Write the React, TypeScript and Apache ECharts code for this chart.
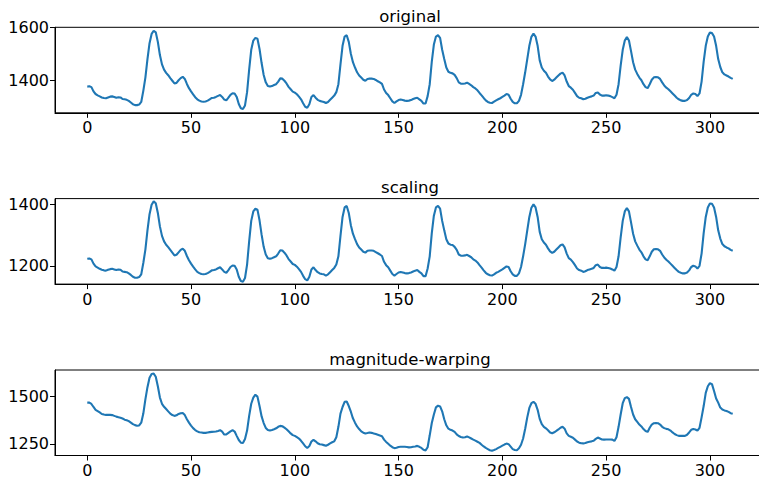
import React, { useEffect, useRef } from "react";
import * as echarts from "echarts";

const titles = ["original", "scaling", "magnitude-warping"];

const original = [
  1376, 1377, 1374, 1358, 1348, 1343, 1339, 1335, 1333, 1332,
  1335, 1338, 1339, 1337, 1334, 1336, 1335, 1329, 1328, 1326,
  1322, 1316, 1309, 1306, 1306, 1308, 1318, 1360, 1410, 1480,
  1540, 1575, 1587, 1581, 1545, 1495, 1460, 1440, 1428, 1419,
  1408, 1398, 1388, 1390, 1400, 1408, 1413, 1405, 1386, 1370,
  1358, 1347, 1336, 1328, 1323, 1320, 1319, 1320, 1323, 1328,
  1333, 1334, 1337, 1341, 1344, 1337, 1327, 1324, 1334, 1345,
  1351, 1350, 1337, 1310, 1294, 1291, 1305, 1355, 1440, 1515,
  1550, 1560, 1557, 1518, 1465, 1420, 1392, 1378, 1376, 1378,
  1382, 1385, 1395, 1407, 1406, 1398, 1388, 1375, 1366, 1357,
  1353, 1347, 1338, 1328, 1313, 1300, 1296, 1309, 1337, 1344,
  1334, 1326, 1322, 1320, 1318, 1314, 1318, 1326, 1334, 1342,
  1355, 1385, 1460, 1530, 1565, 1570, 1545, 1500, 1468, 1448,
  1430, 1418, 1410, 1402, 1398, 1405, 1406, 1406, 1405, 1401,
  1396, 1392, 1386, 1365, 1352, 1344, 1332, 1320, 1314, 1320,
  1325, 1327, 1325, 1323, 1322, 1323, 1325, 1329, 1332, 1334,
  1328, 1322, 1312, 1312, 1340, 1385, 1470, 1535, 1565, 1570,
  1560, 1515, 1480, 1448, 1432, 1428, 1426, 1420, 1408, 1392,
  1387, 1387, 1388, 1391, 1386, 1381, 1374, 1369, 1362, 1352,
  1343, 1333, 1324, 1318, 1315, 1314, 1319, 1324, 1328, 1332,
  1337, 1342, 1348, 1345, 1330, 1318, 1313, 1313, 1322, 1345,
  1385, 1430, 1480, 1530, 1564, 1576, 1565, 1530, 1475, 1448,
  1436, 1428, 1414, 1403, 1397, 1402, 1410, 1418, 1425, 1429,
  1418, 1395, 1378, 1372, 1364, 1352, 1340, 1334, 1332, 1328,
  1330, 1334, 1337, 1339, 1342, 1352, 1354, 1346, 1342, 1342,
  1343, 1342, 1340, 1336, 1332, 1345, 1385, 1455, 1515, 1550,
  1563, 1550, 1510, 1468, 1440, 1424, 1410, 1400, 1385, 1374,
  1370, 1385, 1402, 1411, 1412, 1411, 1405, 1392, 1380, 1372,
  1366, 1358, 1350, 1342, 1334, 1328, 1324, 1322, 1322, 1325,
  1333, 1345, 1350, 1348, 1340, 1350, 1395, 1470, 1530, 1565,
  1580, 1578, 1565, 1530, 1480, 1450, 1430, 1422, 1418, 1414,
  1409, 1405,
];

const scaling = [
  1223, 1224, 1221, 1207, 1198, 1194, 1190, 1187, 1185, 1184,
  1187, 1189, 1190, 1188, 1186, 1188, 1187, 1181, 1180, 1179,
  1175, 1170, 1164, 1161, 1161, 1163, 1172, 1209, 1253, 1316,
  1369, 1400, 1411, 1405, 1373, 1329, 1298, 1280, 1269, 1261,
  1252, 1243, 1234, 1236, 1244, 1252, 1256, 1249, 1232, 1218,
  1207, 1197, 1188, 1180, 1176, 1173, 1172, 1173, 1176, 1180,
  1185, 1186, 1188, 1192, 1195, 1188, 1180, 1177, 1186, 1196,
  1201, 1200, 1188, 1164, 1150, 1148, 1160, 1204, 1280, 1347,
  1378, 1387, 1384, 1349, 1302, 1262, 1237, 1225, 1223, 1225,
  1228, 1231, 1240, 1251, 1250, 1243, 1234, 1222, 1214, 1206,
  1203, 1197, 1189, 1180, 1167, 1156, 1152, 1164, 1188, 1195,
  1186, 1179, 1175, 1173, 1172, 1168, 1172, 1179, 1186, 1193,
  1204, 1231, 1298, 1360, 1391, 1396, 1373, 1333, 1305, 1287,
  1271, 1260, 1253, 1246, 1243, 1249, 1250, 1250, 1249, 1245,
  1241, 1237, 1232, 1213, 1202, 1195, 1184, 1173, 1168, 1173,
  1178, 1180, 1178, 1176, 1175, 1176, 1178, 1181, 1184, 1186,
  1180, 1175, 1166, 1166, 1191, 1231, 1307, 1364, 1391, 1396,
  1387, 1347, 1316, 1287, 1273, 1269, 1268, 1262, 1252, 1237,
  1233, 1233, 1234, 1236, 1232, 1228, 1221, 1217, 1211, 1202,
  1194, 1185, 1177, 1172, 1169, 1168, 1172, 1177, 1180, 1184,
  1188, 1193, 1198, 1196, 1182, 1172, 1167, 1167, 1175, 1196,
  1231, 1271, 1316, 1360, 1390, 1401, 1391, 1360, 1311, 1287,
  1276, 1269, 1257, 1247, 1242, 1246, 1253, 1260, 1267, 1270,
  1260, 1240, 1225, 1220, 1212, 1202, 1191, 1186, 1184, 1180,
  1182, 1186, 1188, 1190, 1193, 1202, 1204, 1196, 1193, 1193,
  1194, 1193, 1191, 1188, 1184, 1196, 1231, 1293, 1347, 1378,
  1389, 1378, 1342, 1305, 1280, 1266, 1253, 1244, 1231, 1221,
  1218, 1231, 1246, 1254, 1255, 1254, 1249, 1237, 1227, 1220,
  1214, 1207, 1200, 1193, 1186, 1180, 1177, 1175, 1175, 1178,
  1185, 1196, 1200, 1198, 1191, 1200, 1240, 1307, 1360, 1391,
  1404, 1403, 1391, 1360, 1316, 1289, 1271, 1264, 1260, 1257,
  1252, 1249,
];

const magnitudeWarping = [
  1468, 1468, 1461, 1445, 1430, 1423, 1416, 1408, 1405, 1403,
  1403, 1403, 1402, 1398, 1394, 1391, 1388, 1384, 1378, 1375,
  1370, 1362, 1354, 1349, 1346, 1347, 1362, 1410, 1485, 1550,
  1600, 1620, 1622, 1605, 1555, 1495, 1462, 1446, 1434, 1422,
  1410, 1402, 1398, 1401, 1408, 1412, 1413, 1402, 1380, 1362,
  1346, 1333, 1323, 1316, 1311, 1310, 1308, 1308, 1310, 1312,
  1313, 1314, 1315, 1318, 1322, 1314, 1299, 1300, 1308, 1316,
  1322, 1315, 1292, 1270, 1256, 1254, 1275, 1320, 1398, 1462,
  1495, 1510, 1500, 1450, 1395, 1360, 1334, 1323, 1320, 1323,
  1327, 1332, 1340, 1345, 1343, 1336, 1327, 1316, 1305, 1296,
  1292, 1285, 1278, 1266, 1252, 1237, 1228, 1238, 1262, 1271,
  1263, 1253, 1248, 1246, 1243, 1240, 1245, 1252, 1258, 1263,
  1285, 1340, 1410, 1445, 1472, 1474, 1450, 1420, 1385, 1362,
  1342, 1328, 1316, 1309, 1305, 1307, 1310, 1308, 1305, 1302,
  1298, 1294, 1290, 1272, 1260, 1250, 1240, 1232, 1227, 1229,
  1233, 1234, 1234, 1234, 1233, 1231, 1232, 1234, 1236, 1239,
  1234, 1228, 1218, 1215, 1232, 1295, 1360, 1405, 1443, 1452,
  1448, 1422, 1380, 1348, 1330, 1324, 1320, 1313, 1300, 1291,
  1286, 1283, 1285, 1289, 1284, 1278, 1272, 1267, 1261, 1255,
  1245, 1236, 1228, 1222, 1216, 1213, 1217, 1222, 1228, 1234,
  1240, 1246, 1251, 1248, 1235, 1222, 1217, 1216, 1226, 1245,
  1278, 1330, 1390, 1440, 1465, 1472, 1462, 1430, 1382, 1354,
  1340, 1332, 1322, 1310, 1306, 1311, 1318, 1326, 1335, 1340,
  1330, 1305, 1292, 1287, 1282, 1272, 1262, 1256, 1253, 1252,
  1254, 1258, 1261, 1263, 1266, 1276, 1283, 1278, 1273, 1272,
  1273, 1273, 1273, 1272, 1265, 1285, 1340, 1405, 1465, 1492,
  1497, 1488, 1445, 1405, 1380, 1366, 1352, 1342, 1328, 1318,
  1313, 1335, 1352, 1359, 1360, 1359, 1352, 1340, 1333, 1329,
  1327, 1320, 1310, 1302, 1296, 1292, 1292, 1292, 1292, 1298,
  1310, 1324, 1328, 1326, 1320, 1335, 1390, 1450, 1520, 1555,
  1571, 1566, 1530, 1490, 1468, 1442, 1432, 1427, 1424, 1419,
  1412, 1409,
];

const xTicks = [0, 50, 100, 150, 200, 250, 300];
const yTicks = [
  [1400, 1600],
  [1200, 1400],
  [1250, 1500],
];
const yRanges = [
  [1277, 1600],
  [1140, 1420],
  [1188, 1641],
];
const xRange = [-15.55, 326.55];

const seriesData = [original, scaling, magnitudeWarping];

export default function App() {
  const ref = useRef<HTMLDivElement>(null);
  useEffect(() => {
    document.body.style.margin = "0";
    const chart = echarts.init(ref.current!, null, { renderer: "svg" });
    const gridTops = [27.3, 198.6, 370];
    const gridH = 85.5;
    const font = "DejaVu Sans";
    const fmt = (v: number) => String(v);
    const option: any = {
      animation: false,
      backgroundColor: "#fff",
      title: titles.map((t, k) => ({
        text: t,
        left: 410,
        textAlign: "center",
        top: gridTops[k] - 19.5,
        padding: 0,
        textStyle: {
          fontFamily: font,
          fontSize: 16.5,
          fontWeight: "normal",
          color: "#000",
        },
      })),
      grid: gridTops.map((top) => ({
        left: 55,
        right: 1,
        top,
        height: gridH,
        show: true,
        borderColor: "#000",
        borderWidth: 1,
        backgroundColor: "transparent",
        containLabel: false,
      })),
      xAxis: gridTops.map((_, k) => ({
        type: "value",
        gridIndex: k,
        min: xRange[0],
        max: xRange[1],
        axisLine: { show: true, onZero: false, lineStyle: { color: "#000", width: 1 } },
        splitLine: { show: false },
        axisTick: {
          show: true,
          length: 5,
          lineStyle: { color: "#000", width: 1 },
          customValues: xTicks,
        },
        axisLabel: {
          color: "#000",
          fontFamily: font,
          fontSize: 16,
          margin: 7,
          formatter: fmt,
          customValues: xTicks,
        },
      })),
      yAxis: gridTops.map((_, k) => ({
        type: "value",
        gridIndex: k,
        min: yRanges[k][0],
        max: yRanges[k][1],
        axisLine: { show: true, onZero: false, lineStyle: { color: "#000", width: 1 } },
        splitLine: { show: false },
        axisTick: {
          show: true,
          length: 5,
          lineStyle: { color: "#000", width: 1 },
          customValues: yTicks[k],
        },
        axisLabel: {
          color: "#000",
          fontFamily: font,
          fontSize: 16,
          margin: 6,
          formatter: fmt,
          customValues: yTicks[k],
        },
      })),
      series: seriesData.map((arr, k) => ({
        type: "line",
        xAxisIndex: k,
        yAxisIndex: k,
        data: arr.map((v, i) => [i, v]),
        showSymbol: false,
        symbol: "none",
        lineStyle: { color: "#1f77b4", width: 2.1 },
        silent: true,
      })),
    };
    chart.setOption(option);
    return () => chart.dispose();
  }, []);
  return (
    <div
      style={{
        position: "absolute",
        left: 0,
        top: 0,
        width: 759,
        height: 481,
        overflow: "hidden",
        background: "#fff",
      }}
    >
      <div ref={ref} style={{ width: 766, height: 481 }} />
    </div>
  );
}
